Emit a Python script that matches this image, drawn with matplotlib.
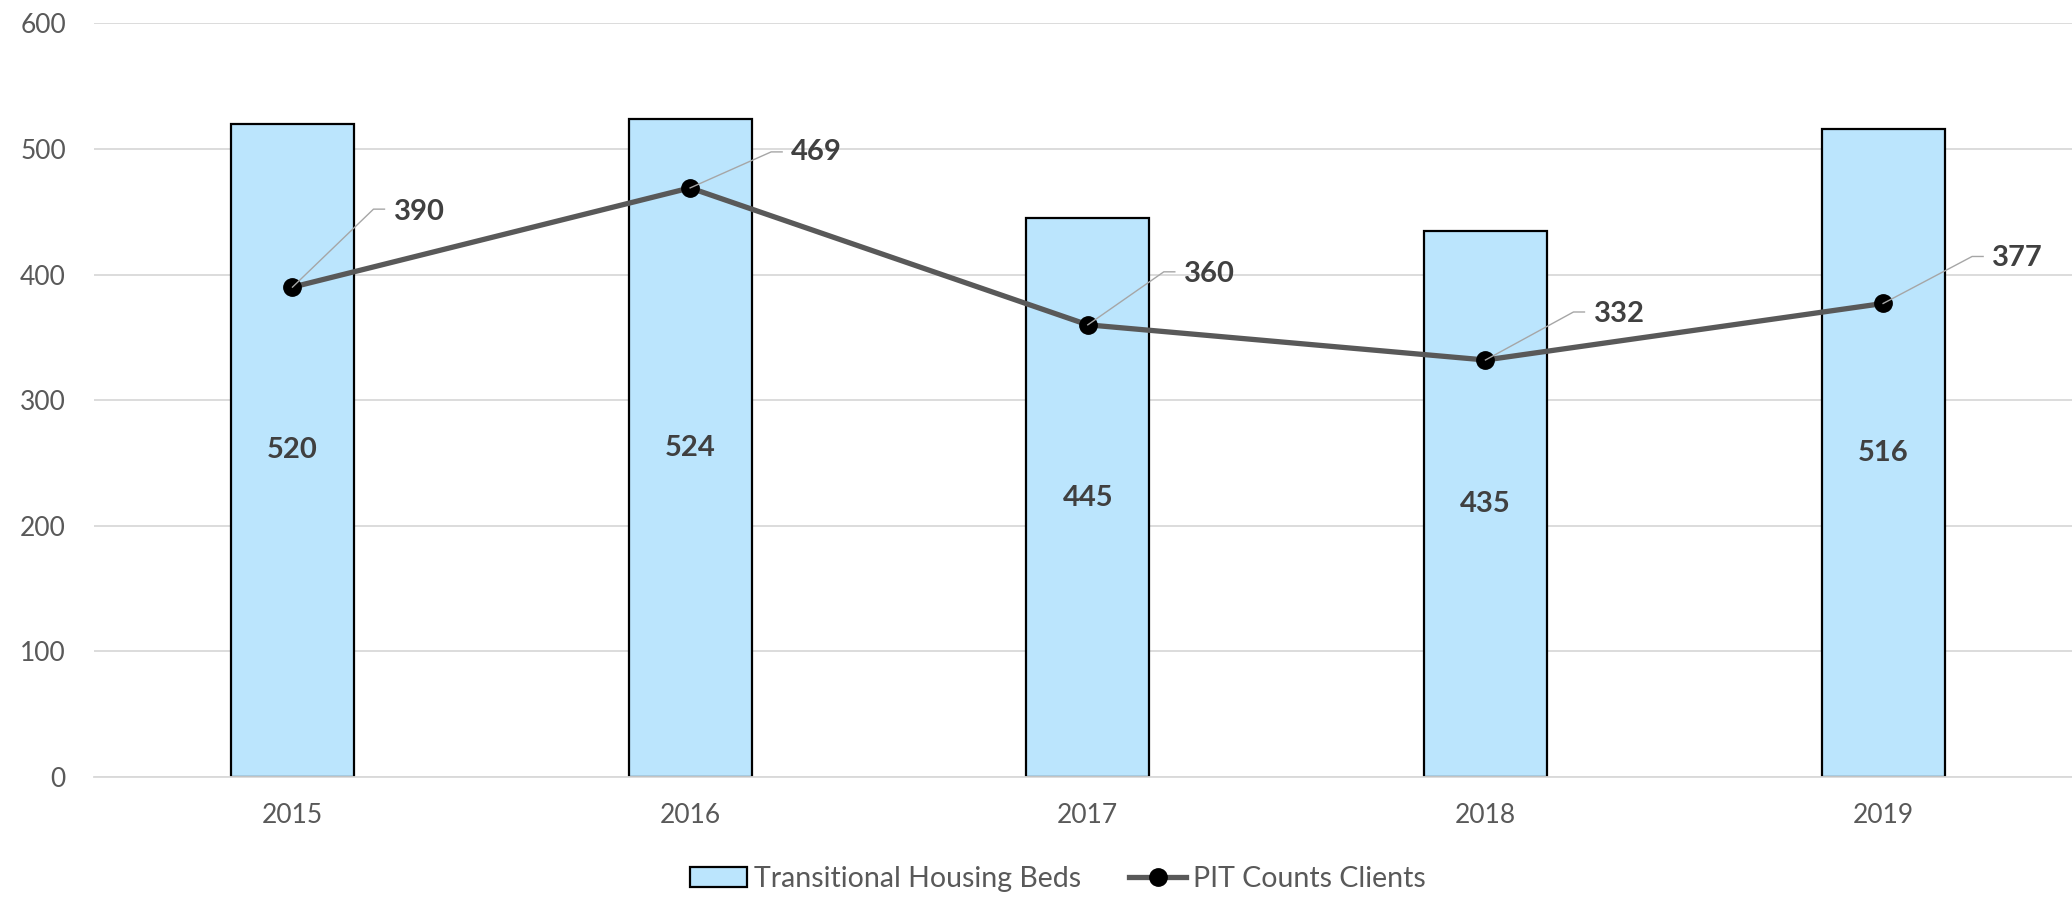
import matplotlib
matplotlib.use("Agg")
import matplotlib.pyplot as plt
import matplotlib.transforms as mtransforms
import numpy as np

years = ["2015", "2016", "2017", "2018", "2019"]
housing_beds = [520, 524, 445, 435, 516]
pit_clients = [390, 469, 360, 332, 377]

# leader line elbow and text offsets (pixels, image-down) for each line label
label_elbow = [(81, -78), (81, -36), (76, -53), (88, -48), (89, -47)]
label_text = [(102, -75), (101, -36), (96, -51), (109, -46), (109, -45)]

plt.rcParams['font.family'] = ['Lato', 'DejaVu Sans']

BAR_COLOR = "#BBE5FD"
LINE_COLOR = "#595959"
TEXT_COLOR = "#595959"
LABEL_COLOR = "#404040"
GRID_COLOR = "#D9D9D9"

fig = plt.figure(figsize=(20.72, 8.98), dpi=100)
# right edge runs slightly past the image, as in the cropped original
ax = fig.add_axes([0.0452, 0.1347, 0.9596, 0.8393])

x = np.arange(len(years))
bars = ax.bar(x, housing_beds, width=0.309, color=BAR_COLOR, edgecolor="black",
              linewidth=1.6, zorder=2, label="Transitional Housing Beds")
for xi, v in zip(x, housing_beds):
    ax.text(xi, v / 2, str(v), ha="center", va="center", fontsize=21,
            fontweight="bold", color=LABEL_COLOR, zorder=3)

line, = ax.plot(x, pit_clients, color=LINE_COLOR, linewidth=3.8, marker="o",
                markersize=12.5, markerfacecolor="black", markeredgecolor="black",
                zorder=4, label="PIT Counts Clients")

for xi, v, (ex, ey), (tx, ty) in zip(x, pit_clients, label_elbow, label_text):
    tr = mtransforms.ScaledTranslation(xi, v, ax.transData)
    ax.plot([0, ex, ex + 11], [0, -ey, -ey], color="#A6A6A6", linewidth=1.0,
            transform=tr, zorder=5, clip_on=False)
    ax.annotate(str(v), xy=(xi, v), xytext=(tx, -ty), textcoords="offset pixels",
                ha="left", va="center", fontsize=21, fontweight="bold",
                color=LABEL_COLOR, zorder=6)

ax.set_xlim(-0.5, len(years) - 0.5)
ax.set_ylim(0, 600)
ax.set_yticks(range(0, 601, 100))
ax.set_xticks(x)
ax.set_xticklabels(years)
ax.yaxis.grid(True, color=GRID_COLOR, linewidth=1.3, zorder=0)
ax.set_axisbelow(True)
for side in ["top", "right", "left"]:
    ax.spines[side].set_visible(False)
ax.spines["bottom"].set_color(GRID_COLOR)
ax.spines["bottom"].set_linewidth(1.3)
ax.tick_params(axis="both", length=0, labelsize=19, labelcolor=TEXT_COLOR)
ax.tick_params(axis="y", pad=20)
ax.tick_params(axis="x", pad=19)

fig.legend([bars, line], ["Transitional Housing Beds", "PIT Counts Clients"],
           loc="lower center", bbox_to_anchor=(0.5106, -0.022), ncol=2,
           frameon=False, fontsize=20.5, handlelength=2.0, handletextpad=0.25,
           columnspacing=1.7, labelcolor=TEXT_COLOR)

fig.savefig("out.png", dpi=100)
